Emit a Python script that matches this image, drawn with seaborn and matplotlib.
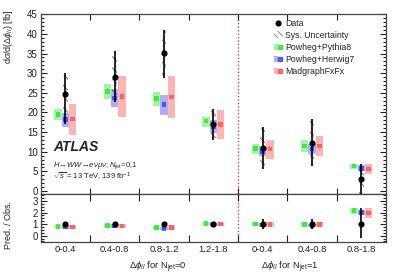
import numpy as np
import pandas as pd
import matplotlib
matplotlib.use("Agg")
import matplotlib.pyplot as plt
from matplotlib.lines import Line2D
from matplotlib.patches import Patch, Rectangle
from matplotlib.legend_handler import HandlerTuple
from matplotlib.ticker import MultipleLocator, FixedLocator
import seaborn as sns

# bins of delta phi_ll (first four: Njet=0, last three: Njet=1)
bins = ["0-0.4", "0.4-0.8", "0.8-1.2", "1.2-1.8", "0-0.4", "0.4-0.8", "0.8-1.8"]

# measured cross section [fb] with total uncertainty band ends
data_val = [24.6, 29.0, 35.2, 17.0, 11.0, 12.3, 3.1]
data_hi = [30.1, 35.6, 41.1, 21.0, 16.4, 18.3, 6.8]
data_lo = [17.0, 22.6, 28.9, 13.0, 5.6, 6.4, -0.7]
sys_hi = [29.6, 35.1, 40.8, 20.7, 16.0, 17.9, 6.5]
sys_lo = [17.6, 23.0, 29.3, 13.4, 6.0, 6.8, -0.7]

# predictions: central value, lower and upper edge
models = ["Powheg+Pythia8", "Powheg+Herwig7", "MadgraphFxFx"]
pythia_val = [19.5, 25.4, 23.5, 17.8, 10.9, 11.5, 6.4]
pythia_lo = [18.1, 23.4, 21.6, 16.2, 9.3, 10.0, 5.6]
pythia_hi = [21.0, 27.3, 25.2, 18.9, 12.1, 13.0, 7.0]
herwig_val = [18.2, 23.7, 22.1, 16.4, 10.0, 10.7, 5.8]
herwig_lo = [16.4, 21.5, 19.3, 14.9, 8.9, 9.4, 5.1]
herwig_hi = [19.9, 26.0, 24.5, 18.1, 11.5, 11.9, 6.6]
mg_val = [18.3, 24.1, 23.9, 17.0, 10.7, 11.5, 5.6]
mg_lo = [14.2, 18.8, 18.7, 13.2, 8.1, 8.9, 4.3]
mg_hi = [22.1, 29.3, 29.2, 20.6, 13.0, 14.0, 6.9]

# ratio panel: pred / obs and half-height of the boxes
ratio_pythia = [0.79, 0.88, 0.68, 1.06, 1.02, 0.95, 2.15]
ratio_herwig = [0.74, 0.82, 0.63, 0.97, 0.93, 0.88, 2.00]
ratio_mg = [0.75, 0.84, 0.70, 1.00, 0.98, 0.94, 1.97]
ratio_pythia_err = [0.15, 0.15, 0.15, 0.15, 0.15, 0.15, 0.25]
ratio_herwig_err = [0.15, 0.15, 0.15, 0.15, 0.15, 0.15, 0.25]
ratio_mg_err = [0.17, 0.20, 0.18, 0.17, 0.20, 0.20, 0.43]
ratio_data = [1, 1, 1, 1, 1, 1, 1]
ratio_data_up = [0.10, 0.10, 0.08, 0.12, 0.45, 0.45, 1.37]
ratio_data_dn = [0.10, 0.10, 0.08, 0.12, 0.45, 0.45, 1.20]

colors = {"Powheg+Pythia8": "#28e628", "Powheg+Herwig7": "#3c3cf0", "MadgraphFxFx": "#fa5050"}
offsets = {"Powheg+Pythia8": -0.15, "Powheg+Herwig7": 0.0, "MadgraphFxFx": 0.15}

sns.set_style("ticks")
plt.rcParams["font.family"] = ["Liberation Sans", "DejaVu Sans"]
plt.rcParams["mathtext.fontset"] = "custom"
plt.rcParams["mathtext.rm"] = "Liberation Sans"
plt.rcParams["mathtext.it"] = "Liberation Sans:italic"
plt.rcParams["mathtext.bf"] = "Liberation Sans:bold"
plt.rcParams["hatch.linewidth"] = 0.7

fig = plt.figure(figsize=(4.07, 2.78), dpi=100)
ax = fig.add_axes([0.100, 0.301, 0.8484, 0.6476])
rax = fig.add_axes([0.100, 0.1306, 0.8484, 0.1704])

x = np.arange(len(bins)) + 0.5

pred = pd.DataFrame({
    "model": np.repeat(models, len(bins)),
    "pos": np.concatenate([x + offsets[m] for m in models]),
    "val": pythia_val + herwig_val + mg_val,
    "lo": pythia_lo + herwig_lo + mg_lo,
    "hi": pythia_hi + herwig_hi + mg_hi,
    "ratio": ratio_pythia + ratio_herwig + ratio_mg,
    "rerr": ratio_pythia_err + ratio_herwig_err + ratio_mg_err,
})

# ---- main panel ----
for xi, lo, hi in zip(x, sys_lo, sys_hi):
    ax.add_patch(Rectangle((xi - 0.045, lo), 0.09, hi - lo, fill=False, hatch="\\\\\\",
                           edgecolor="#777777", lw=0, zorder=1))

for m in models:
    sub = pred[pred.model == m]
    ax.bar(sub.pos, sub.hi - sub.lo, bottom=sub.lo, width=0.15, color=colors[m],
           alpha=0.42, lw=0, zorder=2)
    rax.bar(sub.pos, 2 * sub.rerr, bottom=sub.ratio - sub.rerr, width=0.15, color=colors[m],
            alpha=0.42, lw=0, zorder=2)

sns.scatterplot(data=pred, x="pos", y="val", hue="model", palette=colors, marker="s",
                s=11, linewidth=0, alpha=0.8, legend=False, ax=ax, zorder=3)
sns.scatterplot(data=pred, x="pos", y="ratio", hue="model", palette=colors, marker="s",
                s=11, linewidth=0, alpha=0.8, legend=False, ax=rax, zorder=3)

yerr = [np.array(data_val) - np.array(data_lo), np.array(data_hi) - np.array(data_val)]
ax.errorbar(x, data_val, yerr=yerr, fmt="o", color="black", ms=3.4, lw=1.2,
            capsize=0, zorder=4)
rax.errorbar(x, ratio_data, yerr=[ratio_data_dn, ratio_data_up], fmt="o", color="black",
             ms=3.4, lw=1.2, capsize=0, zorder=4)

for a in (ax, rax):
    a.set_xlim(0, 7)
    a.axvline(4, color="#e03c3c", ls=(0, (1, 1.5)), lw=1.0, zorder=0)
    a.xaxis.set_major_locator(FixedLocator([1, 2, 3, 4, 5, 6]))
    a.tick_params(which="both", direction="in", top=True, right=True, width=0.8,
                  colors="#222222", labelsize=7, pad=2)
    a.tick_params(which="major", length=4)
    a.tick_params(which="minor", length=2)
    a.set_xlabel("")
    a.set_ylabel("")
    for s in a.spines.values():
        s.set_color("#444444")
        s.set_linewidth(0.9)

ax.set_ylim(-0.84, 45)
ax.yaxis.set_major_locator(MultipleLocator(5))
ax.yaxis.set_minor_locator(MultipleLocator(1))
ax.set_xticklabels([])

rax.set_ylim(-0.52, 3.57)
rax.yaxis.set_major_locator(FixedLocator([0, 1, 2, 3]))
rax.yaxis.set_minor_locator(MultipleLocator(0.25))
rax.set_xticklabels([])
rax.xaxis.set_minor_locator(FixedLocator(x))
rax.set_xticklabels(bins, minor=True)
rax.tick_params(axis="x", which="minor", length=0, labelsize=6.8, pad=2.5)
rax.tick_params(axis="x", which="major", length=5)

# legend
data_h = Line2D([], [], marker="o", color="black", ls="none", ms=3.4)
sys_h = Patch(facecolor="none", edgecolor="#888888", hatch="\\\\\\\\\\", lw=0)
model_h = [(Patch(facecolor=colors[m], alpha=0.42, lw=0),
            Line2D([], [], marker="s", color=colors[m], alpha=0.8, ls="none", ms=3.4))
           for m in models]
ax.legend([data_h, sys_h] + model_h, ["Data", "Sys. Uncertainty"] + models,
          handler_map={tuple: HandlerTuple(ndivide=None, pad=0)},
          loc="upper left", bbox_to_anchor=(0.675, 0.975), frameon=False, fontsize=6.3,
          borderpad=0, borderaxespad=0, handlelength=1.0, handleheight=0.8,
          handletextpad=0.3, labelspacing=0.35)

ax.text(0.035, 0.264, "ATLAS", transform=ax.transAxes, fontsize=10, fontweight="bold",
        fontstyle="italic", va="center", ha="left")
ax.text(0.035, 0.159, r"$H\!\rightarrow\!WW\!\rightarrow\!e\nu\mu\nu$; $N_{\rm jet}$=0,1",
        transform=ax.transAxes, fontsize=5.5, va="center", ha="left")
ax.text(0.035, 0.098, r"$\sqrt{s}$ = 13 TeV, 139 fb$^{-1}$", transform=ax.transAxes,
        fontsize=5.5, va="center", ha="left")

fig.text(9 / 407, 1 - 10 / 278, r"d$\sigma$/d($\Delta\phi_{ll}$) [fb]", rotation=90,
         ha="center", va="top", fontsize=6.5)
fig.text(9 / 407, 1 - 225 / 278, "Pred. / Obs.", rotation=90, ha="center", va="center",
         fontsize=6.5)
fig.text(157.5 / 407, 1 - 267 / 278, r"$\Delta\phi_{ll}$ for N$_{\rm jet}$=0",
         ha="center", va="center", fontsize=6.8)
fig.text(290 / 407, 1 - 267 / 278, r"$\Delta\phi_{ll}$ for N$_{\rm jet}$=1",
         ha="center", va="center", fontsize=6.8)

fig.savefig("out.png", dpi=100)
